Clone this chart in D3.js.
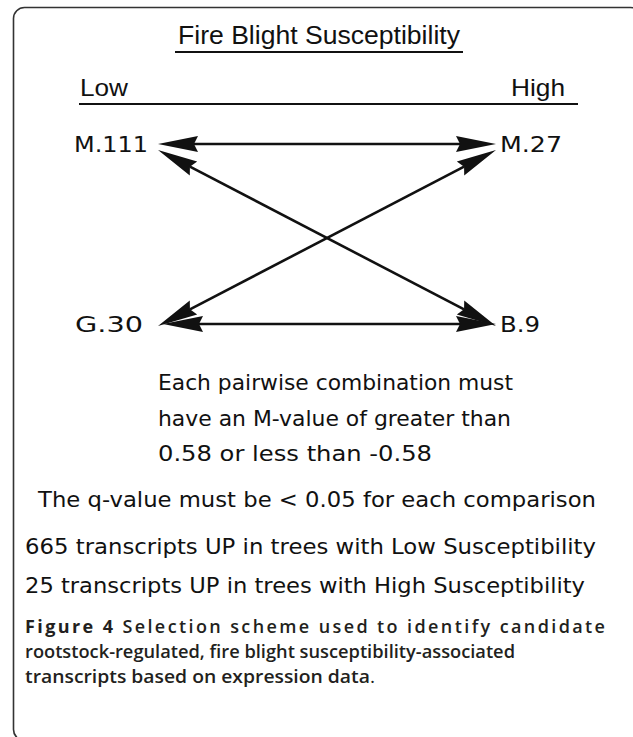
<!DOCTYPE html>
<html><head><meta charset="utf-8">
<script src="https://cdn.jsdelivr.net/npm/d3@7"></script>
<style>body{margin:0;background:#fff}svg{display:block}</style>
</head><body>
<script>
// ---- data ----
const title = "Fire Blight Susceptibility";
const columns = ["Low", "High"];
const rows = ["top", "bottom"];
const nodes = [
  {name: "M.111", col: "Low", row: "top"},
  {name: "M.27", col: "High", row: "top"},
  {name: "G.30", col: "Low", row: "bottom"},
  {name: "B.9", col: "High", row: "bottom"}
];
const comparisons = [["M.111","M.27"],["M.111","B.9"],["G.30","M.27"],["G.30","B.9"]];
const ruleLines = ["Each pairwise combination must","have an M-value of greater than","0.58 or less than -0.58"];
const qLine = "The q-value must be < 0.05 for each comparison";
const resultLines = ["665 transcripts UP in trees with Low Susceptibility","25 transcripts UP in trees with High Susceptibility"];
const captionBold = "Figure 4";
const captionLines = [" Selection scheme used to identify candidate","rootstock-regulated, fire blight susceptibility-associated","transcripts based on expression data."];

// ---- layout ----
const W = 633, H = 737;
const svg = d3.select("body").append("svg").attr("width", W).attr("height", H);
const ink = "#111";
const sans = "'DejaVu Sans', 'Liberation Sans', sans-serif";
const narrow = "'Liberation Sans', sans-serif";

svg.append("rect").attr("x", 13.5).attr("y", 7.5).attr("width", 628).attr("height", 733)
  .attr("rx", 11).attr("fill", "none").attr("stroke", "#333").attr("stroke-width", 1.6);

function txt(s, x, y, opts = {}) {
  const t = svg.append("text").attr("x", x).attr("y", y).text(s)
    .attr("font-family", opts.family || sans).attr("font-size", opts.size || 22)
    .attr("fill", opts.fill || ink).attr("text-anchor", opts.anchor || "start");
  if (opts.len) t.attr("textLength", opts.len).attr("lengthAdjust", opts.adj || "spacingAndGlyphs");
  if (opts.weight) t.attr("font-weight", opts.weight);
  return t;
}

// title + underline
txt(title, 178, 44, {len: 282, size: 25, family: narrow});
svg.append("line").attr("x1", 175).attr("x2", 463).attr("y1", 52).attr("y2", 52).attr("stroke", ink).attr("stroke-width", 2);

// column headers
const xHead = d3.scalePoint().domain(columns).range([80, 565]);
txt("Low", xHead("Low"), 96, {len: 48, size: 24, family: narrow});
txt("High", xHead("High"), 96, {len: 54, size: 24, anchor: "end", family: narrow});
svg.append("line").attr("x1", 79).attr("x2", 578).attr("y1", 104).attr("y2", 104).attr("stroke", ink).attr("stroke-width", 2);

// node positions via scales
const x = d3.scalePoint().domain(columns).range([158, 496]);
const y = d3.scalePoint().domain(rows).range([144, 324]);
const byName = Object.fromEntries(nodes.map(d => [d.name, d]));

const labelW = {"M.111": 74, "M.27": 62, "G.30": 68, "B.9": 40};
nodes.forEach(d => {
  const left = d.col === "Low";
  const lx = left ? x(d.col) - (d.name === "G.30" ? 15 : 10) : x(d.col) + 4;
  txt(d.name, lx, y(d.row) + 8, {anchor: left ? "end" : "start", len: labelW[d.name]});
});

// arrows
const headLen = 40, headHalf = 8;
function endPoint(d, other) {
  const diag = d.row !== other.row;
  let px = x(d.col), py = y(d.row);
  if (diag) py += d.row === "top" ? 6 : 2;
  if (!diag && d.name === "G.30") px += 5;
  return [px, py];
}
comparisons.forEach(([a, b]) => {
  const A = byName[a], B = byName[b];
  const p1 = endPoint(A, B), p2 = endPoint(B, A);
  const dx = p2[0] - p1[0], dy = p2[1] - p1[1];
  const L = Math.hypot(dx, dy), ux = dx / L, uy = dy / L, nx = -uy, ny = ux;
  svg.append("line")
    .attr("x1", p1[0] + ux * headLen * 0.9).attr("y1", p1[1] + uy * headLen * 0.9)
    .attr("x2", p2[0] - ux * headLen * 0.9).attr("y2", p2[1] - uy * headLen * 0.9)
    .attr("stroke", ink).attr("stroke-width", 2.6);
  const head = (tip, dir) => {
    const bx = tip[0] + dir * ux * headLen, by = tip[1] + dir * uy * headLen;
    const mx = tip[0] + dir * ux * headLen * 0.9, my = tip[1] + dir * uy * headLen * 0.9;
    return [tip, [bx + nx * headHalf, by + ny * headHalf], [mx, my], [bx - nx * headHalf, by - ny * headHalf]];
  };
  [head(p1, 1), head(p2, -1)].forEach(pts => {
    svg.append("path").attr("d", d3.line()(pts) + "Z").attr("fill", ink);
  });
});

// rule text
const ruleLens = [355, 353, 274];
ruleLines.forEach((s, i) => txt(s, 158, 390 + i * 35.5, {len: ruleLens[i]}));
txt(qLine, 38, 507, {len: 558});
const resLens = [571, 560];
resultLines.forEach((s, i) => txt(s, 25, 554 + i * 39, {len: resLens[i]}));

// caption
const capFam = "'Open Sans', 'Noto Sans', sans-serif";
const capFill = "#231f20";
const cap = svg.append("text").attr("x", 25).attr("y", 633).attr("font-family", capFam)
  .attr("font-size", 18).attr("fill", capFill).attr("textLength", 580).attr("lengthAdjust", "spacing");
cap.append("tspan").attr("font-weight", 700).text(captionBold);
cap.append("tspan").attr("font-weight", 600).text(captionLines[0]);
txt(captionLines[1], 25, 658, {family: capFam, size: 18, weight: 600, fill: capFill, len: 490});
const l3 = svg.append("text").attr("x", 25).attr("y", 683).attr("font-family", capFam)
  .attr("font-size", 18).attr("fill", capFill).attr("font-weight", 600)
  .attr("textLength", 350).attr("lengthAdjust", "spacingAndGlyphs");
l3.append("tspan").text(captionLines[2].slice(0, -1));
l3.append("tspan").attr("font-weight", 400).text(".");
</script>
</body></html>
